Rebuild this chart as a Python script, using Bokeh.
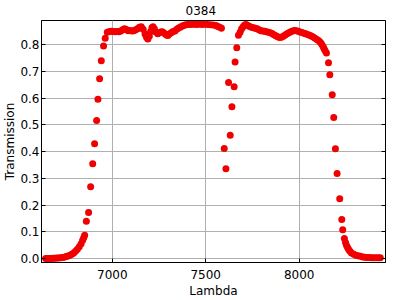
from bokeh.plotting import figure
from bokeh.models import LinearAxis, FixedTicker, Range1d, PrintfTickFormatter, CustomJSTickFormatter
from bokeh.embed import file_html
from bokeh.resources import INLINE

title = "0384"
x_label = "Lambda"
y_label = "Transmission"
x_ticks = [7000, 7500, 8000]
y_ticks = [0.0, 0.1, 0.2, 0.3, 0.4, 0.5, 0.6, 0.7, 0.8]

lam_left_tail = [6643, 6653, 6663, 6673, 6683, 6693, 6703, 6713, 6723, 6733, 6743, 6753, 6763, 6773,
                 6783, 6793, 6803, 6813, 6823, 6833, 6841, 6847]
tr_left_tail = [0.000, 0.000, 0.000, 0.000, 0.001, 0.001, 0.002, 0.002, 0.003, 0.004, 0.005, 0.007, 0.009, 0.012,
                0.016, 0.021, 0.027, 0.035, 0.044, 0.055, 0.068, 0.078]

lam_rise = [6852, 6861, 6873, 6884, 6895, 6905, 6916, 6923, 6932, 6941, 6953, 6962, 6973]
tr_rise = [0.087, 0.139, 0.172, 0.269, 0.355, 0.430, 0.517, 0.596, 0.673, 0.740, 0.796, 0.825, 0.847]

lam_plateau1 = [6985, 6995, 7005, 7015, 7025, 7035, 7045, 7055, 7065, 7075, 7085, 7095, 7105, 7115, 7125,
                7135, 7145, 7155, 7165, 7175, 7183, 7190, 7198, 7205, 7212, 7218, 7225, 7233, 7243, 7253,
                7262, 7270, 7280, 7290, 7297, 7305, 7315, 7325, 7335, 7345, 7355, 7365, 7375, 7385, 7395,
                7405, 7420, 7435, 7450, 7465, 7480, 7495, 7510, 7525, 7540, 7555, 7565, 7575, 7584]
tr_plateau1 = [0.850, 0.851, 0.850, 0.849, 0.850, 0.849, 0.852, 0.856, 0.860, 0.857, 0.853, 0.854, 0.852, 0.853, 0.856,
               0.860, 0.866, 0.868, 0.858, 0.840, 0.828, 0.822, 0.832, 0.850, 0.864, 0.868, 0.860, 0.848, 0.841, 0.846,
               0.849, 0.848, 0.842, 0.837, 0.835, 0.840, 0.845, 0.850, 0.852, 0.858, 0.863, 0.867, 0.870, 0.873, 0.875,
               0.876, 0.876, 0.877, 0.876, 0.877, 0.876, 0.877, 0.876, 0.875, 0.874, 0.872, 0.869, 0.866, 0.862]

lam_notch = [7599, 7608, 7622, 7631, 7640, 7652, 7657, 7666, 7675, 7684, 7692, 7700, 7708, 7716]
tr_notch = [0.412, 0.336, 0.659, 0.461, 0.568, 0.643, 0.736, 0.789, 0.836, 0.847, 0.860, 0.868, 0.874, 0.876]

lam_plateau2 = [7725, 7735, 7745, 7755, 7765, 7775, 7785, 7795, 7805, 7815, 7825, 7835, 7845, 7855, 7865,
                7875, 7885, 7895, 7905, 7915, 7925, 7935, 7945, 7955, 7965, 7975, 7985, 7995, 8005, 8015,
                8025, 8035, 8045, 8055, 8065, 8075, 8085, 8095, 8105, 8113, 8120, 8127, 8133, 8139, 8146]
tr_plateau2 = [0.872, 0.869, 0.866, 0.864, 0.862, 0.860, 0.856, 0.853, 0.852, 0.851, 0.849, 0.847, 0.845, 0.842, 0.838,
               0.834, 0.830, 0.827, 0.828, 0.832, 0.837, 0.841, 0.845, 0.849, 0.852, 0.854, 0.853, 0.851, 0.848, 0.846,
               0.843, 0.841, 0.839, 0.836, 0.833, 0.829, 0.825, 0.820, 0.815, 0.810, 0.803, 0.795, 0.786, 0.778, 0.769]

lam_fall = [8157, 8164, 8177, 8185, 8194, 8203, 8217, 8228, 8233, 8242, 8248, 8253, 8259, 8265, 8272,
            8280, 8292, 8303, 8315, 8328, 8340, 8352, 8363, 8375, 8387, 8399, 8411, 8423, 8434]
tr_fall = [0.733, 0.688, 0.613, 0.528, 0.411, 0.318, 0.224, 0.146, 0.108, 0.075, 0.060, 0.050, 0.041, 0.034, 0.027,
           0.021, 0.016, 0.012, 0.010, 0.008, 0.006, 0.005, 0.004, 0.004, 0.003, 0.003, 0.003, 0.003, 0.003]

lam = lam_left_tail + lam_rise + lam_plateau1 + lam_notch + lam_plateau2 + lam_fall
trans = tr_left_tail + tr_rise + tr_plateau1 + tr_notch + tr_plateau2 + tr_fall

FONT = "DejaVu Sans"

p = figure(width=400, height=300, output_backend="svg", toolbar_location=None,
           x_range=Range1d(6621, 8462), y_range=Range1d(-0.015, 0.891),
           min_border_left=40, min_border_right=15, min_border_top=20, min_border_bottom=38)

p.title.text = title
p.title.align = "left"
p.title.vertical_align = "top"
p.title.text_font = FONT
p.title.text_font_size = "12px"
p.title.text_font_style = "normal"
p.title.text_color = "black"
p.title.offset = 144
p.title.standoff = 7

p.scatter(lam, trans, size=7, fill_color="#f00000", line_alpha=0)

p.outline_line_color = "black"
p.outline_line_width = 1
p.background_fill_color = "white"
p.border_fill_color = "white"

for ax in p.xaxis + p.yaxis:
    ax.major_tick_in = 4
    ax.major_tick_out = 0
    ax.minor_tick_in = 0
    ax.minor_tick_out = 0
    ax.axis_line_color = "black"
    ax.major_tick_line_color = "black"
    ax.major_label_text_font = FONT
    ax.major_label_text_font_size = "12px"
    ax.major_label_text_color = "black"
    ax.axis_label_text_font = FONT
    ax.axis_label_text_font_size = "12px"
    ax.axis_label_text_font_style = "normal"
    ax.axis_label_text_color = "black"

p.xaxis.ticker = FixedTicker(ticks=x_ticks)
p.yaxis.ticker = FixedTicker(ticks=y_ticks)
p.yaxis.formatter = PrintfTickFormatter(format="%.1f")
p.xaxis.axis_label = x_label
p.yaxis.axis_label = y_label
p.xaxis.major_label_standoff = 7
p.yaxis.major_label_standoff = 2
p.xaxis.axis_label_standoff = 2
p.yaxis.axis_label_standoff = 0

right = LinearAxis(ticker=FixedTicker(ticks=y_ticks), major_tick_in=4, major_tick_out=0,
                   minor_tick_in=0, minor_tick_out=0,
                   formatter=CustomJSTickFormatter(code="return ''"),
                   major_label_standoff=0, axis_line_color="black")
p.add_layout(right, "right")

p.xgrid.ticker = FixedTicker(ticks=x_ticks)
p.ygrid.ticker = FixedTicker(ticks=y_ticks)
p.grid.grid_line_color = "#b0b0b0"
p.grid.grid_line_width = 1

open("out.html", "w").write(file_html(p, INLINE))
